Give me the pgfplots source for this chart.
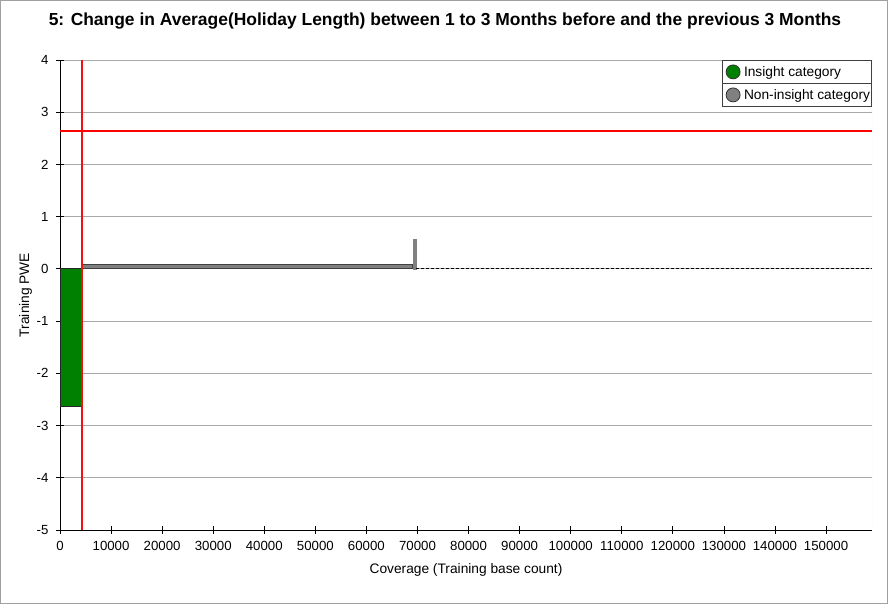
\documentclass[border=0pt]{standalone}
\usepackage{fontspec}
\setmainfont{Liberation Sans}
\usepackage{pgfplots}
\pgfplotsset{compat=1.18}
\definecolor{insight}{HTML}{008000}
\definecolor{noninsight}{HTML}{808080}
\definecolor{gridc}{HTML}{A8A8A8}
\definecolor{framec}{HTML}{A0A0A0}
\definecolor{mred}{HTML}{F21010}
\definecolor{mredb}{HTML}{FE0202}
\begin{document}
\begin{tikzpicture}
\useasboundingbox (0,0) rectangle (888bp,604bp);
\draw[framec, line width=1bp] (0.5bp,0.5bp) rectangle (887.5bp,603.5bp);
\node[font=\bfseries\fontsize{17.5}{20}\selectfont, anchor=base] at (445bp,578bp) {5: Change in Average(Holiday Length) between 1 to 3 Months before and the previous 3 Months};
\begin{axis}[
  at={(60bp,74bp)}, anchor=south west,
  scale only axis, width=812bp, height=470bp,
  xmin=0, xmax=159000, ymin=-5, ymax=4,
  axis lines=left, axis line style={-, black, line width=0.8bp},
  xtick={0,10000,20000,30000,40000,50000,60000,70000,80000,90000,100000,110000,120000,130000,140000,150000},
  xticklabels={0,10000,20000,30000,40000,50000,60000,70000,80000,90000,100000,110000,120000,130000,140000,150000},
  ytick={-5,-4,-3,-2,-1,0,1,2,3,4},
  yticklabels={-5,-4,-3,-2,-1,0,1,2,3,4},
  tick align=center, major tick length=8bp,
  tick style={black, line width=0.8bp},
  ymajorgrids, grid style={gridc, line width=0.9bp},
  scaled x ticks=false,
  ticklabel style={font=\fontsize{13.3}{15}\selectfont},
  xticklabel style={yshift=-4bp},
  yticklabel style={xshift=-4bp},
  xlabel={Coverage (Training base count)}, ylabel={Training PWE},
  label style={font=\fontsize{13.8}{15}\selectfont},
  xlabel style={yshift=-6bp},
  ylabel style={yshift=-2bp},
  legend cell align=left,
  legend style={at={(rel axis cs:1,1)}, anchor=north east, draw=black!75, line width=0.8bp,
    inner sep=0pt, row sep=0pt, column sep=0pt, name=mylegend,
    nodes={minimum height=23bp, inner sep=1.5bp, font=\fontsize{13.8}{15}\selectfont}},
  legend image code/.code={\filldraw[#1] (0bp,0bp) circle (7bp); \path (-10bp,0bp) (9bp,0bp);},
]
\addlegendimage{fill=insight, draw=black!80, line width=0.8bp}
\addlegendentry{Insight category}
\addlegendimage{fill=noninsight, draw=black!80, line width=0.8bp}
\addlegendentry{Non-insight category}
% insight bar
\addplot[forget plot, fill=insight, draw=black!85, line width=0.8bp] coordinates {(0,0) (0,-2.64) (4300,-2.64) (4300,0)} -- cycle;
% non-insight bar
\addplot[forget plot, fill=noninsight, draw=black!75, line width=0.8bp] coordinates {(4300,0) (4300,0.08) (69000,0.08) (69000,0)} -- cycle;
% thin bar
\addplot[forget plot, fill=noninsight, draw=noninsight, line width=0.5bp] coordinates {(69200,0) (69200,0.57) (69800,0.57) (69800,0)} -- cycle;
% dashed zero line
\addplot[forget plot, draw=black, dash pattern=on 3bp off 2bp, line width=0.8bp] coordinates {(69800,0) (159000,0)};
% red reference lines
\addplot[forget plot, draw=mred, line width=1.2bp] coordinates {(4300,-5) (4300,4)};
\addplot[forget plot, draw=mredb, line width=1.2bp] coordinates {(0,2.64) (159000,2.64)};
\draw[black!8, line width=1bp] (rel axis cs:1,0) -- (rel axis cs:1,1);
\end{axis}
\draw[black!75, line width=0.8bp] (mylegend.west) -- (mylegend.east);
\end{tikzpicture}
\end{document}
